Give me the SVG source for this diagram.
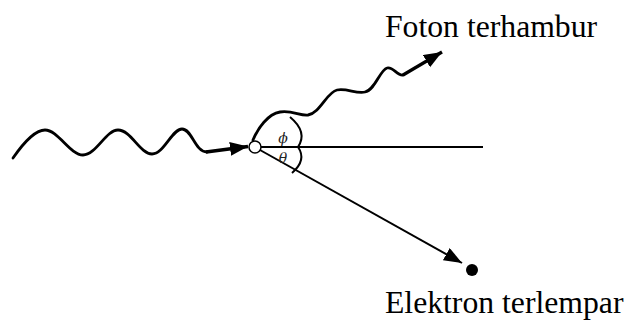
<svg xmlns="http://www.w3.org/2000/svg" width="628" height="320" viewBox="0 0 628 320">
<style>
.wave{fill:none;stroke:#000;stroke-width:2.8;stroke-linecap:round;stroke-linejoin:round}
.ln{fill:none;stroke:#000;stroke-width:2}
.lbl{font-family:"Liberation Serif","Times New Roman",serif;font-size:31.7px;fill:#000}
.ang{font-family:"DejaVu Serif","Liberation Serif",serif;font-style:italic;font-size:14px;fill:#222;text-anchor:middle}
</style>
<defs>
<marker id="ah" markerUnits="userSpaceOnUse" markerWidth="19" markerHeight="15" refX="18" refY="7" orient="auto">
<path d="M0,0 L18,7 L0,14 z" fill="#000"/>
</marker>
</defs>
<rect width="628" height="320" fill="#fff"/>
<g id="connectors">
<path id="incoming" class="wave" d="M13,158 C22,145 35,130 45,130 C58,130 70,155 83,155 C96,155 106,130 118,130 C131,130 140,154 152,154 C164,154 172,129 182,129 C192,129 195,152 207,152"/>
<path class="ln" d="M206,152 L248,146.5" marker-end="url(#ah)" style="stroke-width:3.6"/>
<path id="scattered" class="wave" d="M253,140 C258,128 268,114 280,112 C292,110 300,116 308,115 C320,113 327,92 337,90 C347,88 356,94 365,92 C375,90 380,70 387,68 C393,66 397,76 403,75"/>
<path class="ln" d="M403,75 L442,52" marker-end="url(#ah)" style="stroke-width:3.2"/>
<path id="axis" class="ln" d="M261,147 L483,147"/>
<path id="electron-path" class="ln" d="M260,150 L462,263" marker-end="url(#ah)"/>
<path id="angle-arcs" class="ln" d="M290,117 Q308,132 298,147 Q307,160 292,173"/>
</g>
<g id="scatter-point">
<circle cx="255" cy="147" r="6" fill="#fff" stroke="#000" stroke-width="1.5"/>
</g>
<g id="angles">
<text class="ang" x="283" y="143">ϕ</text>
<text class="ang" x="283" y="163">θ</text>
</g>
<g id="photon-label">
<text class="lbl" x="385" y="37">Foton terhambur</text>
</g>
<g id="electron">
<circle cx="472" cy="270" r="6" fill="#000"/>
<text class="lbl" x="385" y="313">Elektron terlempar</text>
</g>
</svg>
